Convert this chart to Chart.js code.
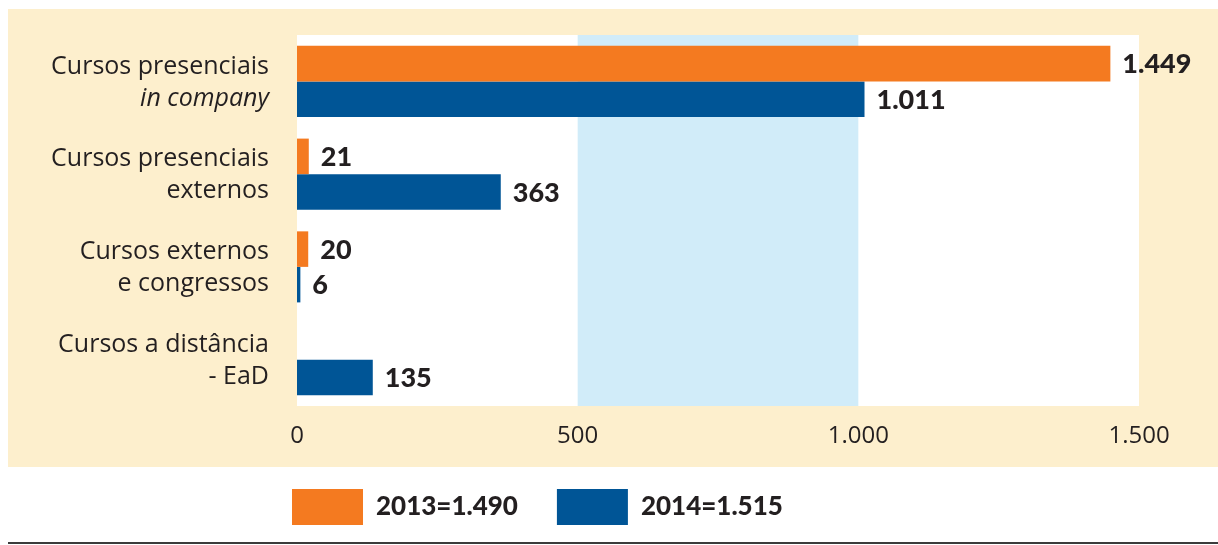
<!DOCTYPE html>
<html><head><meta charset="utf-8">
<script src="https://cdn.jsdelivr.net/npm/chart.js@4.4.1/dist/chart.umd.min.js"></script>
<style>html,body{margin:0;padding:0;background:#fff;}#wrap{width:1218px;height:545px;position:relative;}</style>
</head><body><div id="wrap"><canvas id="c" width="1218" height="545"></canvas></div>
<script>
// ---- data ----
const categories = [
  ["Cursos presenciais", "in company"],
  ["Cursos presenciais", "externos"],
  ["Cursos externos", "e congressos"],
  ["Cursos a distância", "- EaD"]
];
const italicSecondLine = [true, false, false, false];
const values2013 = [1449, 21, 20, 0];
const values2014 = [1011, 363, 6, 135];
const seriesNames = ["2013=1.490", "2014=1.515"];
const xTickValues = [0, 500, 1000, 1500];
const bandRange = [500, 1000];

// ---- style ----
const ORANGE = "#f47a20", BLUE = "#005596", BEIGE = "#fdefcd", BAND = "#d1ecf9", TEXT = "#231f20";
const fmt = v => String(v).replace(/\B(?=(\d{3})+(?!\d))/g, ".");

const backgroundPlugin = {
  id: "bg",
  beforeDraw(chart) {
    const {ctx, chartArea: a, scales: {x}} = chart;
    ctx.save();
    ctx.fillStyle = BEIGE;
    ctx.fillRect(8, a.top - 26, chart.width - 8, (a.bottom + 61) - (a.top - 26));
    ctx.fillStyle = "#ffffff";
    ctx.fillRect(a.left, a.top, a.right - a.left, a.bottom - a.top);
    ctx.fillStyle = BAND;
    const x0 = x.getPixelForValue(bandRange[0]), x1 = x.getPixelForValue(bandRange[1]);
    ctx.fillRect(x0, a.top, x1 - x0, a.bottom - a.top);
    ctx.restore();
  },
  afterDraw(chart) {
    const {ctx} = chart;
    ctx.save();
    ctx.fillStyle = "#3b3b3b";
    ctx.fillRect(8, chart.height - 3, chart.width - 8, 2);
    ctx.restore();
  }
};

const categoryLabelPlugin = {
  id: "catLabels",
  afterDraw(chart) {
    const {ctx, scales: {y}} = chart;
    ctx.save();
    ctx.fillStyle = TEXT;
    ctx.textAlign = "right";
    ctx.textBaseline = "middle";
    categories.forEach((lines, i) => {
      const cy = y.getPixelForValue(i);
      lines.forEach((t, j) => {
        const italic = j === 1 && italicSecondLine[i];
        ctx.font = (italic ? "italic " : "") + '25px "Open Sans"';
        ctx.fillText(t, 269, cy - 15 + j * 32);
      });
    });
    ctx.restore();
  }
};

const valueLabelPlugin = {
  id: "valLabels",
  afterDatasetsDraw(chart) {
    const {ctx} = chart;
    ctx.save();
    ctx.fillStyle = TEXT;
    ctx.textAlign = "left";
    ctx.textBaseline = "middle";
    ctx.font = '900 27px Lato';
    chart.data.datasets.forEach((ds, di) => {
      chart.getDatasetMeta(di).data.forEach((bar, i) => {
        const v = ds.data[i];
        if (!v) return;
        ctx.fillText(fmt(v), bar.x + 12, bar.y + 1);
      });
    });
    ctx.restore();
  }
};

new Chart(document.getElementById("c"), {
  type: "bar",
  data: {
    labels: categories.map(c => c.join(" ")),
    datasets: [
      {label: seriesNames[0], data: values2013, backgroundColor: ORANGE, borderWidth: 0},
      {label: seriesNames[1], data: values2014, backgroundColor: BLUE, borderWidth: 0}
    ]
  },
  options: {
    indexAxis: "y",
    responsive: false,
    animation: false,
    devicePixelRatio: 1,
    categoryPercentage: 0.766,
    barPercentage: 1,
    layout: {padding: {left: 253, right: 79, top: 35, bottom: 10}},
    scales: {
      x: {
        min: 0, max: 1500,
        afterBuildTicks: s => { s.ticks = xTickValues.map(v => ({value: v})); },
        afterFit: s => { s.height = 44; },
        grid: {display: false, drawTicks: false},
        border: {display: false},
        ticks: {padding: 16, color: TEXT, font: {family: "Open Sans", size: 24}, callback: v => fmt(v), maxRotation: 0}
      },
      y: {
        afterFit: s => { s.width = 44; },
        grid: {display: false, drawTicks: false},
        border: {display: false},
        ticks: {display: false}
      }
    },
    plugins: {
      legend: {
        position: "bottom",
        align: "start",
        labels: {boxWidth: 71, boxHeight: 36, padding: 39, color: TEXT, font: {family: "Lato", size: 26, weight: "900"}}
      },
      tooltip: {enabled: false}
    }
  },
  plugins: [backgroundPlugin, categoryLabelPlugin, valueLabelPlugin]
});
</script></body></html>
